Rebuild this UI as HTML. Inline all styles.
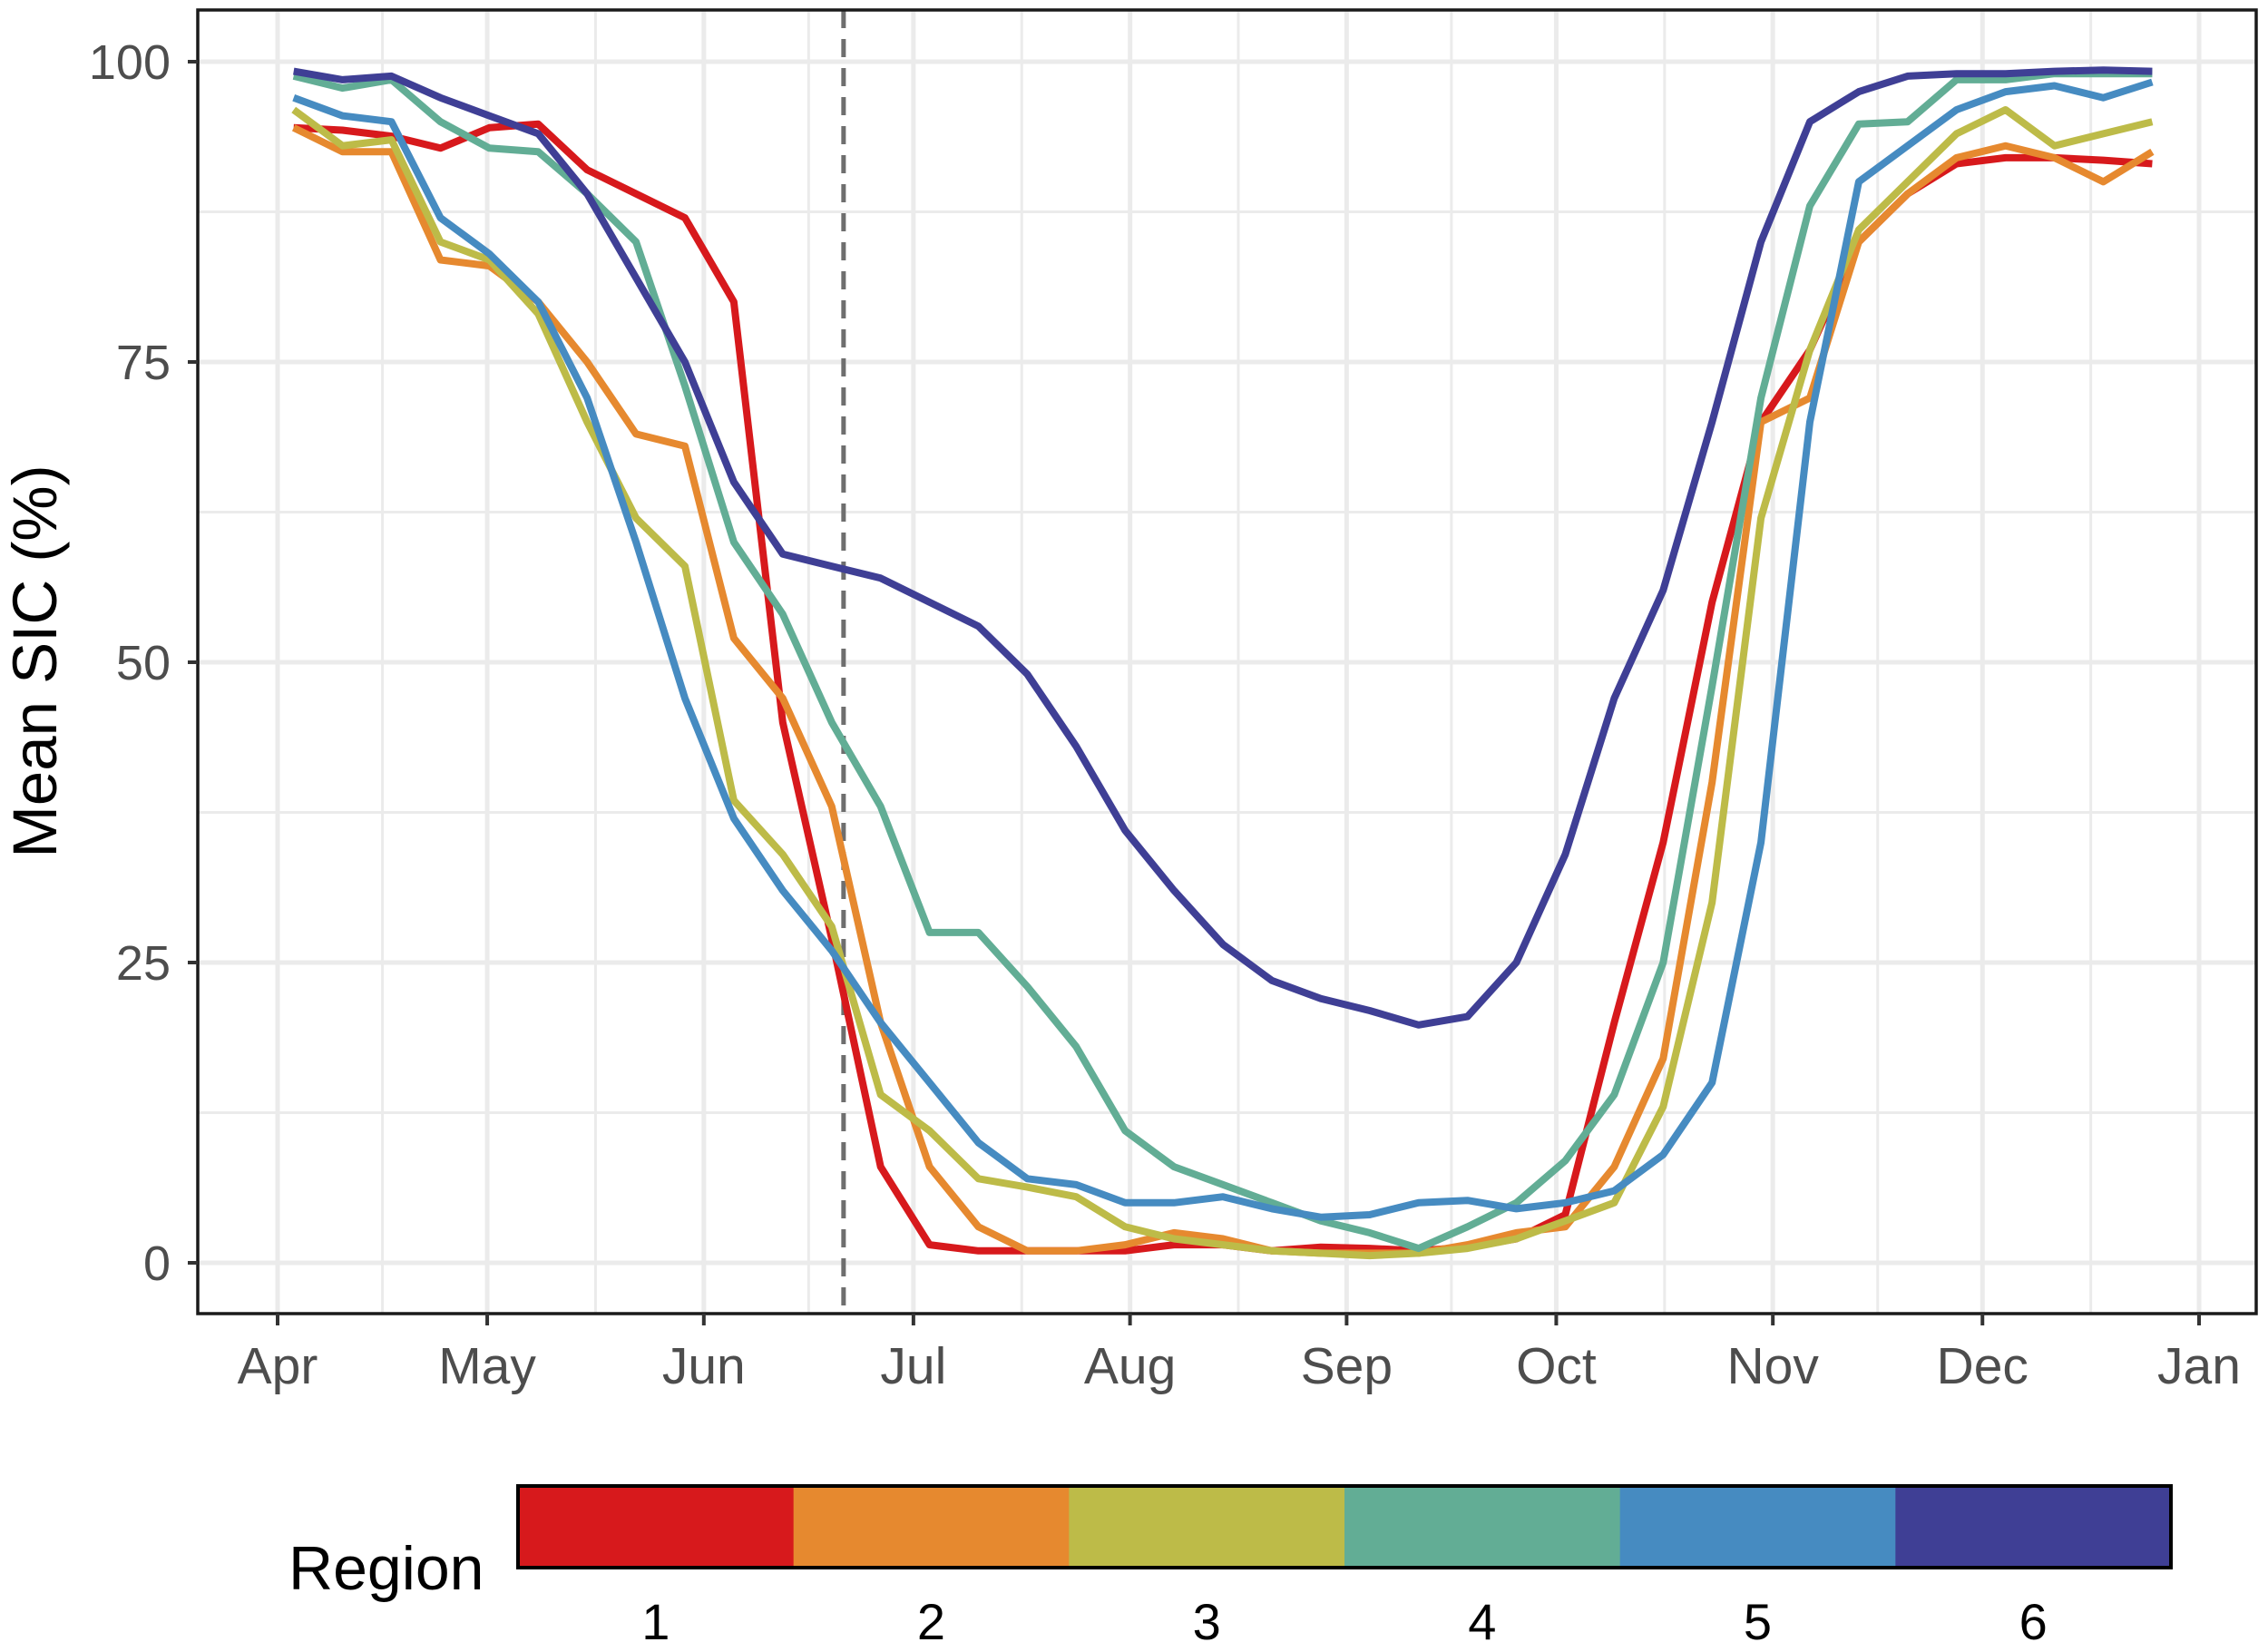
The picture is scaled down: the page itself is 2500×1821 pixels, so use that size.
<!DOCTYPE html>
<html><head><meta charset="utf-8"><style>
html,body{margin:0;padding:0;background:#fff;}
svg{display:block;font-family:"Liberation Sans",Arial,sans-serif;}
</style></head><body>
<svg id="chart" width="2500" height="1821" viewBox="0 0 2500 1821" xmlns="http://www.w3.org/2000/svg">
<rect x="0" y="0" width="2500" height="1821" fill="#fff"/>
<g id="grid"></g>
<g id="series"></g>
<g id="axes"></g>
<g id="legend"></g>
</svg>
<script>
const days = [2.3,9.3,16.3,23.3,30.3,37.3,44.3,51.3,58.3,65.3,72.3,79.3,86.3,93.3,100.3,107.3,114.3,121.3,128.3,135.3,142.3,149.3,156.3,163.3,170.3,177.3,184.3,191.3,198.3,205.3,212.3,219.3,226.3,233.3,240.3,247.3,254.3,261.3,268.3];
const region1 = [94.5,94.3,93.8,92.8,94.5,94.8,91,89,87,80,45,27,8,1.5,1,1,1,1,1.5,1.5,1,1.3,1.2,1,1.3,2,4,20,35,55,70,76,85,89,91.5,92,92,91.8,91.5];
const region2 = [94.5,92.5,92.5,83.5,83,80,75,69,68,52,47,38,20,8,3,1,1,1.5,2.5,2,1,0.8,0.8,0.8,1.5,2.5,3,8,17,40,70,72,85,89,92,93,92,90,92.5];
const region3 = [96,93,93.5,85,83.5,79,70,62,58,38.5,34,28,14,11,7,6.3,5.5,3,2,1.5,1,0.8,0.6,0.8,1.2,2,3.5,5,13,30,62,76,86,90,94,96,93,94,95];
const region4 = [98.8,97.8,98.5,95,92.8,92.5,89,85,73,60,54,45,38,27.5,27.5,23,18,11,8,6.5,5,3.5,2.5,1.2,3,5,8.5,14,25,48,72,88,94.8,95,98.5,98.5,99,99,99];
const region5 = [97,95.5,95,87,84,80,72,60,47,37,31,26,20,15,10,7,6.5,5,5,5.5,4.5,3.8,4,5,5.2,4.5,5,6,9,15,35,70,90,93,96,97.5,98,97,98.3];
const region6 = [99.2,98.5,98.8,97,95.5,94,89,82,75,65,59,58,57,55,53,49,43,36,31,26.5,23.5,22,21,19.8,20.5,25,34,47,56,70,85,95,97.5,98.8,99,99,99.2,99.3,99.2];
const regionNames = ["1","2","3","4","5","6"];
const regionColors = ["#D7191C","#E6892F","#BDBB48","#62AD95","#468BC1","#3F3F95"];
const monthLabels = ["Apr","May","Jun","Jul","Aug","Sep","Oct","Nov","Dec","Jan"];
const monthDays = [0,30,61,91,122,153,183,214,244,275];
const yTicks = [0,25,50,75,100];
const solsticeDay = 81;

const NS="http://www.w3.org/2000/svg";
const PL=218, PR=2487, PT=11, PB=1448;
const xScale = d => 306 + d*(2424-306)/275;
const yScale = v => 1392 - v*(1392-68)/100;
function mk(tag, attrs, parent){const e=document.createElementNS(NS,tag);for(const k in attrs)e.setAttribute(k,attrs[k]);parent.appendChild(e);return e;}

const grid=document.getElementById('grid');
for(let i=0;i<yTicks.length-1;i++){
  const v=(yTicks[i]+yTicks[i+1])/2;
  const l=mk('line',{x1:PL,x2:PR,y1:yScale(v),y2:yScale(v),stroke:'#EBEBEB','stroke-width':3},grid);
  
  
}
for(let i=0;i<monthDays.length-1;i++){
  const d=(monthDays[i]+monthDays[i+1])/2;
  const l=mk('line',{x1:xScale(d),x2:xScale(d),y1:PT,y2:PB,stroke:'#EBEBEB','stroke-width':3},grid);
  
  
}
yTicks.forEach(v=>{
  const l=mk('line',{x1:PL,x2:PR,y1:yScale(v),y2:yScale(v),stroke:'#EBEBEB','stroke-width':5},grid);
  
  
});
monthDays.forEach(d=>{
  const l=mk('line',{x1:xScale(d),x2:xScale(d),y1:PT,y2:PB,stroke:'#EBEBEB','stroke-width':5},grid);
  
  
});

const sol=mk('line',{x1:xScale(solsticeDay),x2:xScale(solsticeDay),y1:PT,y2:PB,stroke:'#6E6E6E','stroke-width':5,'stroke-dasharray':'20 12'},grid);



const seriesG=document.getElementById('series');
const allSeries=[region1,region2,region3,region4,region5,region6];
allSeries.forEach((s,k)=>{
  const pts=s.map((v,i)=>xScale(days[i]).toFixed(1)+','+yScale(v).toFixed(1)).join(' ');
  const p=mk('polyline',{points:pts,fill:'none',stroke:regionColors[k],'stroke-width':8,'stroke-linejoin':'round','stroke-linecap':'butt'},seriesG);
  
  
});

const axes=document.getElementById('axes');
const border=mk('rect',{x:PL,y:PT,width:PR-PL,height:PB-PT,fill:'none',stroke:'#1a1a1a','stroke-width':3.5},axes);


yTicks.forEach(v=>{
  const t=mk('line',{x1:PL-11,x2:PL,y1:yScale(v),y2:yScale(v),stroke:'#333','stroke-width':4},axes);
  
  
  const tx=mk('text',{x:188,y:yScale(v)+19,'text-anchor':'end','font-size':54,fill:'#4D4D4D'},axes);
  tx.textContent=v;
  
  
});
monthDays.forEach((d,i)=>{
  const t=mk('line',{x1:xScale(d),x2:xScale(d),y1:PB,y2:PB+13,stroke:'#333','stroke-width':4},axes);
  
  
  const tx=mk('text',{x:xScale(d),y:1525,'text-anchor':'middle','font-size':57,fill:'#4D4D4D'},axes);
  tx.textContent=monthLabels[i];
  
  
});
const yt=mk('text',{x:0,y:0,'text-anchor':'middle','font-size':69,fill:'#000',transform:'translate(62,729) rotate(-90)'},axes);
yt.textContent='Mean SIC (%)';



const legend=document.getElementById('legend');
const LX0=571, LX1=2393, LY0=1638, LY1=1728;
const segW=(LX1-LX0)/regionNames.length;
regionNames.forEach((n,k)=>{
  const r=mk('rect',{x:LX0+k*segW,y:LY0,width:segW+0.5,height:LY1-LY0,fill:regionColors[k]},legend);
  
  
  const tx=mk('text',{x:LX0+(k+0.5)*segW,y:1807,'text-anchor':'middle','font-size':56,fill:'#000'},legend);
  tx.textContent=n;
  
  
});
const lb=mk('rect',{x:LX0,y:LY0,width:LX1-LX0,height:LY1-LY0,fill:'none',stroke:'#000','stroke-width':4},legend);


const lt=mk('text',{x:318,y:1752,'font-size':68,fill:'#000'},legend);
lt.textContent='Region';


</script>
</body></html>
